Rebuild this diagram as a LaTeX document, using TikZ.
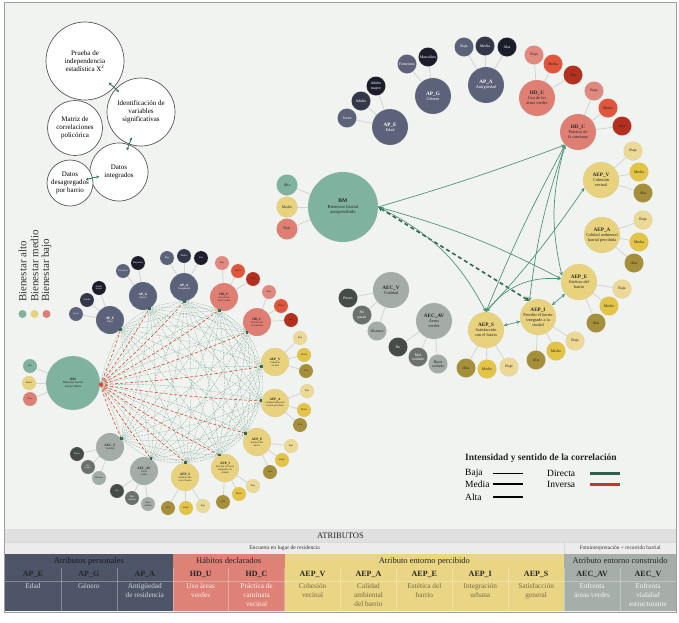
\documentclass[tikz,border=0pt]{standalone}
\usepackage{fontspec}
\setmainfont{Liberation Serif}
\usetikzlibrary{calc,arrows.meta}
\pgfdeclarelayer{bg}\pgfdeclarelayer{links}
\pgfsetlayers{bg,links,main}
\definecolor{cPanel}{HTML}{F1F3F0}
\definecolor{cGreen}{HTML}{80B39F}
\definecolor{cYel}{HTML}{E9D27E}
\definecolor{cSal}{HTML}{DF7F74}
\definecolor{cSlate}{HTML}{5C6279}
\definecolor{cNavyB}{HTML}{343749}
\definecolor{cNavyC}{HTML}{1B1D2A}
\definecolor{cSalL}{HTML}{E2897F}
\definecolor{cRedM}{HTML}{E0553B}
\definecolor{cRedD}{HTML}{B3301F}
\definecolor{cYelL}{HTML}{ECD995}
\definecolor{cGold}{HTML}{E3C446}
\definecolor{cOlive}{HTML}{A68F3A}
\definecolor{cGray}{HTML}{A4ACA7}
\definecolor{cGrayD}{HTML}{454B47}
\definecolor{cGrayM}{HTML}{6B716D}
\definecolor{cMesh}{HTML}{7EA896}
\definecolor{cRedMesh}{HTML}{DA4A30}
\definecolor{cPort}{HTML}{2D6B53}
\definecolor{cFlow}{HTML}{4E9579}
\definecolor{cFlowD}{HTML}{2E6A52}
\definecolor{cPA}{HTML}{2E7D60}
\definecolor{cDirect}{HTML}{2E5E4E}
\definecolor{cInv}{HTML}{C0392B}
\definecolor{cTSlate}{HTML}{4F5569}
\definecolor{cTSal}{HTML}{DE8176}
\definecolor{cTYel}{HTML}{EAD585}
\definecolor{cTGray}{HTML}{A5AEA8}
\definecolor{cRowA}{HTML}{E0E0E0}
\definecolor{cRowB}{HTML}{ECECEC}
\newcommand\fsz[2]{\fontsize{#1}{#2}\selectfont}
\newcommand\rcode[1]{{\fsz{5.2}{6}\textbf{#1}}}
\newcommand\lcode[1]{{\fsz{3.4}{3.9}\textbf{#1}}}
\newcommand\mkkid[5]{\node[#4] (#1) at #3 {#5};
  \begin{pgfonlayer}{links}\draw[stem] (#2.center) -- (#1.center);\end{pgfonlayer}}
\begin{document}
\begin{tikzpicture}[x=1pt,y=-1pt,
  bub/.style={circle, inner sep=0pt, align=center, draw=white!55!gray, densely dotted, line width=0.35pt},
  rBM/.style={bub, minimum size=70pt, font=\fsz{4.6}{5.4}},
  lBM/.style={bub, minimum size=54pt, font=\fsz{3}{3.5}},
  rP/.style={bub, minimum size=36pt, font=\fsz{4.3}{4.9}},
  rK/.style={bub, minimum size=19pt, font=\fsz{3.9}{4.3}},
  rKb/.style={bub, minimum size=21pt, font=\fsz{3.9}{4.3}},
  lP/.style={bub, minimum size=28pt, font=\fsz{2.6}{3}},
  lK/.style={bub, minimum size=14pt, font=\fsz{2.4}{2.7}},
  fBM/.style={fill=cGreen, text=black!85},
  fBMy/.style={fill=cYel, text=black!85},
  fBMs/.style={fill=cSal, text=black!85},
  fAP/.style={fill=cSlate, text=white},
  fAP2/.style={fill=cNavyB, text=white},
  fAP3/.style={fill=cNavyC, text=white},
  fHD/.style={fill=cSal, text=black!85},
  fHD1/.style={fill=cSalL, text=black!85},
  fHD2/.style={fill=cRedM, text=black!85},
  fHD3/.style={fill=cRedD, text=black!85},
  fEP/.style={fill=cYel, text=black!85},
  fEP1/.style={fill=cYelL, text=black!85},
  fEP2/.style={fill=cGold, text=black!85},
  fEP3/.style={fill=cOlive, text=black!85},
  fEC/.style={fill=cGray, text=black!85},
  fEC1/.style={fill=cGrayD, text=white},
  fEC2/.style={fill=cGrayM, text=white},
  stem/.style={draw=black!17, line width=0.8pt},
  mesh/.style={draw=cMesh, line width=0.35pt, dash pattern=on 2pt off 1pt, opacity=0.8},
  rmesh/.style={draw=cRedMesh, line width=0.6pt, dash pattern=on 3pt off 2pt},
  flow/.style={draw=cFlow, line width=0.7pt, -{Stealth[length=4pt,width=3.5pt]}},
  flowtwo/.style={draw=cFlow, line width=0.7pt, {Stealth[length=4pt,width=3.5pt]}-{Stealth[length=4pt,width=3.5pt]}},
  flowd/.style={draw=cFlowD, line width=1.6pt, dash pattern=on 4pt off 3pt, {Stealth[length=5pt,width=5pt]}-{Stealth[length=5pt,width=5pt]}},
  proc/.style={circle, draw=black!65, fill=white, line width=0.7pt, inner sep=0pt, align=center, font=\fsz{7}{8.2}},
  pa/.style={draw=cPA, line width=0.9pt, {Stealth[length=3pt,width=3pt]}-{Stealth[length=3pt,width=3pt]}},
  lg/.style={font=\fsz{9.5}{10}, anchor=west, inner sep=0pt},
  thead/.style={font=\fsz{8.5}{9.5}, text=black!85, inner sep=0pt},
  tcode/.style={font=\bfseries\fsz{8}{9}, text=black!85, inner sep=0pt},
  tdesc/.style={font=\fsz{7.3}{9.2}, align=center, anchor=north, inner sep=0pt}
]
\useasboundingbox (0,0) rectangle (679,622);
\begin{pgfonlayer}{bg}
\fill[white] (0,0) rectangle (679,622);
\filldraw[fill=cPanel, draw=gray!75, line width=0.8pt] (4.5,2) rectangle (676,612);
\end{pgfonlayer}

% ---------- process bubbles ----------
\node[proc, minimum size=78pt] (P1) at (85,61) {Prueba de\\independencia\\estadística X\textsuperscript{2}};
\node[proc, minimum size=68pt] (P2) at (141,112) {Identificación de\\variables\\significativas};
\node[proc, minimum size=55pt] (P3) at (75,128) {Matriz de\\correlaciones\\policórica};
\node[proc, minimum size=58pt] (P4) at (119,172) {Datos\\integrados};
\node[proc, minimum size=46pt] (P5) at (70,183) {Datos\\desagregados\\por barrio};
\draw[pa] ($(P1.center)!32pt!(P2.center)$) -- ($(P1.center)!46pt!(P2.center)$);
\draw[pa] ($(P2.center)!27pt!(P4.center)$) -- ($(P2.center)!41pt!(P4.center)$);
\draw[pa] ($(P5.center)!16pt!(P4.center)$) -- ($(P5.center)!30pt!(P4.center)$);

% ---------- vertical legend ----------
\node[rotate=90, anchor=west, font=\fsz{11}{12}, text=black!80, inner sep=0pt] (bA) at (22.5,302) {Bienestar alto};
\node[rotate=90, anchor=west, font=\fsz{11}{12}, text=black!80, inner sep=0pt] (bM) at (34.5,302) {Bienestar medio};
\node[rotate=90, anchor=west, font=\fsz{11}{12}, text=black!80, inner sep=0pt] (bB) at (46.5,302) {Bienestar bajo};
\node[circle, fill=cGreen, minimum size=8pt, inner sep=0pt] (dA) at (22.5,314) {};
\node[circle, fill=cYel, minimum size=8pt, inner sep=0pt] (dM) at (34.5,314) {};
\node[circle, fill=cSal, minimum size=8pt, inner sep=0pt] (dB) at (46.5,314) {};

% ---------- right network ----------
\node[rBM, fBM] (BMr) at (343,207) {{\fsz{5.6}{6.6}\textbf{BM}}\\Bienestar barrial\\autopercibido};
\mkkid{rBM1}{BMr}{(287,185)}{rKb,fBM}{Alto}
\mkkid{rBM2}{BMr}{(287,207)}{rKb,fBMy}{Medio}
\mkkid{rBM3}{BMr}{(287,229)}{rKb,fBMs}{Bajo}

\node[rP, fAP] (APEr) at (390,127) {\rcode{AP\_E}\\Edad};
\mkkid{rAPE1}{APEr}{(347,118)}{rK,fAP}{Joven}
\mkkid{rAPE2}{APEr}{(361,101)}{rK,fAP2}{Adulto}
\mkkid{rAPE3}{APEr}{(376,86)}{rK,fAP3}{Adulto\\mayor}
\node[rP, fAP] (APGr) at (433,96) {\rcode{AP\_G}\\Género};
\mkkid{rAPG1}{APGr}{(407,64)}{rK,fAP}{Femenino}
\mkkid{rAPG2}{APGr}{(428,57)}{rK,fAP3}{Masculino}
\node[rP, fAP] (APAr) at (486,85) {\rcode{AP\_A}\\Antigüedad};
\mkkid{rAPA1}{APAr}{(464,47)}{rK,fAP}{Baja}
\mkkid{rAPA2}{APAr}{(485,46)}{rK,fAP2}{Media}
\mkkid{rAPA3}{APAr}{(507,47)}{rK,fAP3}{Alta}

\node[rP, fHD] (HDUr) at (537,98) {\rcode{HD\_U}\\Uso de las\\áreas verdes};
\mkkid{rHDU1}{HDUr}{(534,55)}{rK,fHD1}{Baja}
\mkkid{rHDU2}{HDUr}{(553,64)}{rK,fHD2}{Media}
\mkkid{rHDU3}{HDUr}{(573,75)}{rK,fHD3}{Alta}
\node[rP, fHD] (HDCr) at (578,132) {\rcode{HD\_C}\\Práctica de\\la caminata};
\mkkid{rHDC1}{HDCr}{(594,91)}{rK,fHD1}{Baja}
\mkkid{rHDC2}{HDCr}{(608,108)}{rK,fHD2}{Media}
\mkkid{rHDC3}{HDCr}{(622,126)}{rK,fHD3}{Alta}

\node[rP, fEP] (AEPVr) at (601,180) {\rcode{AEP\_V}\\Cohesión\\vecinal};
\mkkid{rEV1}{AEPVr}{(633,151)}{rK,fEP1}{Baja}
\mkkid{rEV2}{AEPVr}{(639,172)}{rK,fEP2}{Media}
\mkkid{rEV3}{AEPVr}{(643,193)}{rK,fEP3}{Alta}
\node[rP, fEP] (AEPAr) at (602,235) {\rcode{AEP\_A}\\Calidad ambiental\\barrial percibida};
\mkkid{rEA1}{AEPAr}{(643,220)}{rK,fEP1}{Baja}
\mkkid{rEA2}{AEPAr}{(639,242)}{rK,fEP2}{Media}
\mkkid{rEA3}{AEPAr}{(634,263)}{rK,fEP3}{Alta}
\node[rP, fEP] (AEPEr) at (579,282) {\rcode{AEP\_E}\\Estética del\\barrio};
\mkkid{rEE1}{AEPEr}{(622,289)}{rK,fEP1}{Baja}
\mkkid{rEE2}{AEPEr}{(609,306)}{rK,fEP2}{Medio}
\mkkid{rEE3}{AEPEr}{(596,323)}{rK,fEP3}{Alta}
\node[rP, fEP] (AEPIr) at (538,317) {\rcode{AEP\_I}\\Percibir el barrio\\integrado a la\\ciudad};
\mkkid{rEI1}{AEPIr}{(575,341)}{rK,fEP1}{Baja}
\mkkid{rEI2}{AEPIr}{(556,351)}{rK,fEP2}{Medio}
\mkkid{rEI3}{AEPIr}{(536,360)}{rK,fEP3}{Alta}
\node[rP, fEP] (AEPSr) at (486,330) {\rcode{AEP\_S}\\Satisfacción\\con el barrio};
\mkkid{rES1}{AEPSr}{(509,367)}{rK,fEP1}{Baja}
\mkkid{rES2}{AEPSr}{(487,369)}{rK,fEP2}{Medio}
\mkkid{rES3}{AEPSr}{(466,368)}{rK,fEP3}{Alta}

\node[rP, fEC] (AECVr) at (391,290) {\rcode{AEC\_V}\\Vialidad};
\mkkid{rCV1}{AECVr}{(348,298)}{rK,fEC1}{Paseo}
\mkkid{rCV2}{AECVr}{(362,315)}{rK,fEC2}{No\\paseo}
\mkkid{rCV3}{AECVr}{(377,331)}{rK,fEC}{Distante}
\node[rP, fEC] (AECAVr) at (434,321) {\rcode{AEC\_AV}\\Áreas\\verdes};
\mkkid{rCA1}{AECAVr}{(398,347)}{rK,fEC1}{No}
\mkkid{rCA2}{AECAVr}{(418,357)}{rK,fEC2}{Mal\\cuidado}
\mkkid{rCA3}{AECAVr}{(438,364)}{rK,fEC}{Buen\\cuidado}

% right network relations
\draw[flow] (BMr.east) to[bend right=2] (HDCr.225);
\draw[flow] (BMr.east) to[bend left=6] (AEPEr.170);
\draw[flowd] (BMr.east) -- (AEPIr.118);
\draw[flow] (BMr.east) to[bend left=18] (AEPSr.north);
\draw[flowtwo] (AEPSr.north) to[bend left=3] (HDCr.225);
\draw[flowtwo] (AEPSr.north) to[bend right=4] (AEPVr.205);
\draw[flowtwo] (AEPSr.north) to[bend left=28] (AEPEr.170);
\draw[flowtwo] (AEPIr.118) to[bend left=6] (HDCr.225);
\draw[flowtwo] (AEPEr.160) to[bend left=14] (HDCr.225);
\draw[flowtwo] (AEPSr) -- (AEPIr);
\draw[flowtwo] (AEPIr) -- (AEPEr);

% ---------- left network ----------
\node[lBM, fBM] (BMl) at (73,383) {\lcode{BM}\\Bienestar barrial\\autopercibido};
\mkkid{lBM1}{BMl}{(30,366)}{lK,fBM}{Alto}
\mkkid{lBM2}{BMl}{(29,383)}{lK,fBMy}{Medio}
\mkkid{lBM3}{BMl}{(30,399)}{lK,fBMs}{Bajo}

\node[lP, fAP] (APEl) at (110,320) {\lcode{AP\_E}\\Edad};
\mkkid{lAPE1}{APEl}{(76,314)}{lK,fAP}{Joven}
\mkkid{lAPE2}{APEl}{(87,300)}{lK,fAP2}{Adulto}
\mkkid{lAPE3}{APEl}{(99,288)}{lK,fAP3}{Adulto\\mayor}
\node[lP, fAP] (APGl) at (143,296) {\lcode{AP\_G}\\Género};
\mkkid{lAPG1}{APGl}{(123,271)}{lK,fAP}{Femenino}
\mkkid{lAPG2}{APGl}{(138,263)}{lK,fAP3}{Masculino}
\node[lP, fAP] (APAl) at (184,287) {\lcode{AP\_A}\\Antigüedad};
\mkkid{lAPA1}{APAl}{(167,258)}{lK,fAP}{Baja}
\mkkid{lAPA2}{APAl}{(184,256)}{lK,fAP2}{Media}
\mkkid{lAPA3}{APAl}{(201,258)}{lK,fAP3}{Alta}

\node[lP, fHD] (HDUl) at (224,297) {\lcode{HD\_U}\\Uso de las\\áreas verdes};
\mkkid{lHDU1}{HDUl}{(222,263)}{lK,fHD1}{Baja}
\mkkid{lHDU2}{HDUl}{(238,271)}{lK,fHD2}{Media}
\mkkid{lHDU3}{HDUl}{(253,279)}{lK,fHD3}{Alta}
\node[lP, fHD] (HDCl) at (257,322) {\lcode{HD\_C}\\Práctica de\\la caminata};
\mkkid{lHDC1}{HDCl}{(269,292)}{lK,fHD1}{Baja}
\mkkid{lHDC2}{HDCl}{(281,306)}{lK,fHD2}{Media}
\mkkid{lHDC3}{HDCl}{(291,320)}{lK,fHD3}{Alta}

\node[lP, fEP] (AEPVl) at (275,362) {\lcode{AEP\_V}\\Cohesión\\vecinal};
\mkkid{lEV1}{AEPVl}{(300,338)}{lK,fEP1}{Baja}
\mkkid{lEV2}{AEPVl}{(304,355)}{lK,fEP2}{Media}
\mkkid{lEV3}{AEPVl}{(306,371)}{lK,fEP3}{Alta}
\node[lP, fEP] (AEPAl) at (275,403) {\lcode{AEP\_A}\\Calidad ambiental\\barrial percibida};
\mkkid{lEA1}{AEPAl}{(307,391)}{lK,fEP1}{Baja}
\mkkid{lEA2}{AEPAl}{(304,410)}{lK,fEP2}{Media}
\mkkid{lEA3}{AEPAl}{(300,425)}{lK,fEP3}{Alta}
\node[lP, fEP] (AEPEl) at (257,442) {\lcode{AEP\_E}\\Estética del\\barrio};
\mkkid{lEE1}{AEPEl}{(291,446)}{lK,fEP1}{Baja}
\mkkid{lEE2}{AEPEl}{(282,460)}{lK,fEP2}{Medio}
\mkkid{lEE3}{AEPEl}{(270,472)}{lK,fEP3}{Alta}
\node[lP, fEP] (AEPIl) at (225,468) {\lcode{AEP\_I}\\Percibir el barrio\\integrado a la\\ciudad};
\mkkid{lEI1}{AEPIl}{(253,486)}{lK,fEP1}{Baja}
\mkkid{lEI2}{AEPIl}{(239,494)}{lK,fEP2}{Medio}
\mkkid{lEI3}{AEPIl}{(223,502)}{lK,fEP3}{Alta}
\node[lP, fEP] (AEPSl) at (185,477) {\lcode{AEP\_S}\\Satisfacción\\con el barrio};
\mkkid{lES1}{AEPSl}{(203,506)}{lK,fEP1}{Baja}
\mkkid{lES2}{AEPSl}{(186,508)}{lK,fEP2}{Medio}
\mkkid{lES3}{AEPSl}{(168,508)}{lK,fEP3}{Alta}

\node[lP, fEC] (AECAVl) at (144,471) {\lcode{AEC\_AV}\\Áreas\\verdes};
\mkkid{lCA1}{AECAVl}{(117,491)}{lK,fEC1}{No}
\mkkid{lCA2}{AECAVl}{(132,498)}{lK,fEC2}{Mal\\cuidado}
\mkkid{lCA3}{AECAVl}{(148,504)}{lK,fEC}{Buen\\cuidado}
\node[lP, fEC] (AECVl) at (110,447) {\lcode{AEC\_V}\\Vialidad};
\mkkid{lCV1}{AECVl}{(77,454)}{lK,fEC1}{Paseo}
\mkkid{lCV2}{AECVl}{(88,467)}{lK,fEC2}{Sin\\paseo}
\mkkid{lCV3}{AECVl}{(99,478)}{lK,fEC}{Distante}

\coordinate (ctr) at (190,390);
\foreach \n in {BMl,APEl,APGl,APAl,HDUl,HDCl,AEPVl,AEPAl,AEPEl,AEPIl,AEPSl,AECAVl,AECVl}
  \path (\n) -- (ctr) coordinate[pos=0] (p\n);
\begin{pgfonlayer}{links}
\foreach \a [count=\i] in {BMl,APEl,APGl,APAl,HDUl,HDCl,AEPVl,AEPAl,AEPEl,AEPIl,AEPSl,AECAVl,AECVl}{
  \foreach \b [count=\j] in {BMl,APEl,APGl,APAl,HDUl,HDCl,AEPVl,AEPAl,AEPEl,AEPIl,AEPSl,AECAVl,AECVl}{
    \ifnum\j>\i \draw[mesh] (p\a) to[bend left=7] (p\b); \fi
  }
}
\foreach \b in {APEl,APGl,APAl,HDUl,HDCl,AEPVl,AEPAl,AEPEl,AEPIl,AEPSl,AECAVl,AECVl}
  \draw[rmesh] (pBMl) to[bend right=3] (p\b);
\end{pgfonlayer}
\foreach \n in {APEl,APGl,APAl,HDUl,HDCl,AEPVl,AEPAl,AEPEl,AEPIl,AEPSl,AECAVl,AECVl}
  \fill[cPort] ($(p\n)+(-1.4,-1.4)$) rectangle ($(p\n)+(1.4,1.4)$);
\fill[cRedMesh] ($(pBMl)+(-1.6,-1.6)$) rectangle ($(pBMl)+(1.6,1.6)$);

% ---------- correlation legend ----------
\node[font=\bfseries\fsz{9.5}{11}, anchor=west, inner sep=0pt, text=black!85] (legT) at (465,458) {Intensidad y sentido de la correlación};
\node[lg] (lgB) at (465,473) {Baja};
\node[lg] (lgM) at (465,484) {Media};
\node[lg] (lgA) at (465,497) {Alta};
\node[lg] (lgD) at (547,473) {Directa};
\node[lg] (lgI) at (547,484) {Inversa};
\coordinate (lb1) at (493,473); \coordinate (lb2) at (523,473);
\coordinate (lm1) at (493,484); \coordinate (lm2) at (523,484);
\coordinate (la1) at (493,497); \coordinate (la2) at (523,497);
\coordinate (ld1) at (590,473); \coordinate (ld2) at (620,473);
\coordinate (li1) at (590,484); \coordinate (li2) at (620,484);
\draw[line width=1pt] (lb1) -- (lb2);
\draw[line width=1.6pt] (lm1) -- (lm2);
\draw[line width=2.6pt] (la1) -- (la2);
\draw[cDirect, line width=3pt] (ld1) -- (ld2);
\draw[cInv, line width=3pt] (li1) -- (li2);

% ---------- table ----------
\fill[cRowA] (5,529) rectangle (676,542.5);
\fill[cRowB] (5,542.5) rectangle (676,554);
\draw[white!70!gray, line width=0.5pt] (5,542.5) -- (676,542.5);
\draw[white!70!gray, line width=0.5pt] (564.2,542.5) -- (564.2,554);
\node[font=\fsz{8.5}{9.5}, text=black!85, inner sep=0pt] (tAtr) at (340.5,536) {ATRIBUTOS};
\node[font=\fsz{5.6}{6.5}, text=black!80, inner sep=0pt] (tEnc) at (284.6,548.5) {Encuesta en lugar de residencia};
\node[font=\fsz{5.4}{6.5}, text=black!80, inner sep=0pt] (tFot) at (620.1,548.5) {Fotointerpretación + recorrido barrial};
\fill[cTSlate] (5,554) rectangle (172.8,611);
\fill[cTSal] (172.8,554) rectangle (284.6,611);
\fill[cTYel] (284.6,554) rectangle (564.2,611);
\fill[cTGray] (564.2,554) rectangle (676,611);
\foreach \k in {1,...,11}
  \draw[white, opacity=0.3, line width=0.5pt] ({5+\k*55.917},568) -- ({5+\k*55.917},611);
\draw[white, opacity=0.3, line width=0.5pt] (5,581) -- (676,581);
\node[thead, text=black!90] (gP) at (88.9,561) {Atributos personales};
\node[thead] (gH) at (228.7,561) {Hábitos declarados};
\node[thead] (gE) at (424.4,561) {Atributo entorno percibido};
\node[thead] (gC) at (620.1,561) {Atributo entorno construido};
\foreach \c [count=\k from 0] in {AP\_E,AP\_G,AP\_A,HD\_U,HD\_C,AEP\_V,AEP\_A,AEP\_E,AEP\_I,AEP\_S,AEC\_AV,AEC\_V}
  \node[tcode] (code\k) at ({5+(\k+0.5)*55.917},574.5) {\c};
\node[tdesc, text=white!75!cTSlate] (d0) at (32.96,583) {Edad};
\node[tdesc, text=white!75!cTSlate] (d1) at (88.9,583) {Género};
\node[tdesc, text=white!75!cTSlate] (d2) at (144.8,583) {Antigüedad\\de residencia};
\node[tdesc, text=white!88!cTSal] (d3) at (200.7,583) {Uso áreas\\verdes};
\node[tdesc, text=white!88!cTSal] (d4) at (256.6,583) {Práctica de\\caminata\\vecinal};
\node[tdesc, text=black!50!cTYel] (d5) at (312.6,583) {Cohesión\\vecinal};
\node[tdesc, text=black!50!cTYel] (d6) at (368.5,583) {Calidad\\ambiental\\del barrio};
\node[tdesc, text=black!50!cTYel] (d7) at (424.4,583) {Estética del\\barrio};
\node[tdesc, text=black!50!cTYel] (d8) at (480.3,583) {Integración\\urbana};
\node[tdesc, text=black!50!cTYel] (d9) at (536.2,583) {Satisfacción\\general};
\node[tdesc, text=white!90!cTGray] (d10) at (592.1,583) {Enfrenta\\áreas verdes};
\node[tdesc, text=white!90!cTGray] (d11) at (648.0,583) {Enfrenta\\vialidad\\estructurante};
\end{tikzpicture}
\end{document}
